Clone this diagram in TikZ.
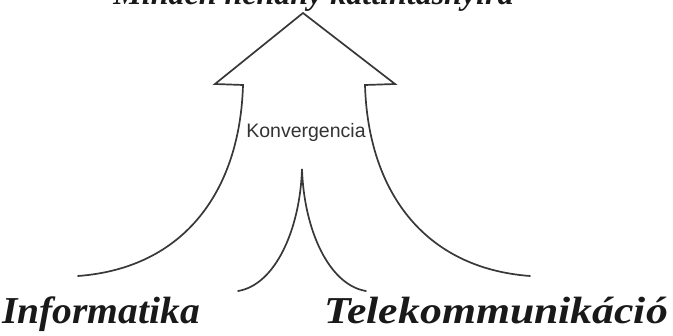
\documentclass[tikz,border=0pt]{standalone}
\usepackage{fontspec}
\setmainfont{Liberation Serif}
\newfontfamily\arialf{Liberation Sans}
\begin{document}
\begin{tikzpicture}[x=1pt,y=-1pt,
  curve/.style={draw=black!78, line width=1.7pt, line cap=round, line join=miter},
  biglabel/.style={inner sep=0pt, font=\fontsize{38}{40}\selectfont\bfseries\itshape, text=black!90},
  toplabel/.style={inner sep=0pt, font=\fontsize{32}{34}\selectfont\bfseries\itshape, text=black!90},
  convlabel/.style={inner sep=0pt, font=\arialf\fontsize{19.5}{21}\selectfont, text=black!80}]
\useasboundingbox (0,0) rectangle (673,336);
\fill[white] (0,0) rectangle (673,336);
% arrow head and shafts
\coordinate (tip) at (303,13);
\coordinate (lo) at (215,84);
\coordinate (li) at (243,85);
\coordinate (ri) at (365,85);
\coordinate (ro) at (395,84);
\coordinate (lend) at (78,276);
\coordinate (rend) at (530,276);
\draw[curve] (lend) .. controls (185,268) and (240,190) .. (li) -- (lo) -- (tip) -- (ro) -- (ri) .. controls (368,190) and (423,268) .. (rend);
% middle cusp
\coordinate (cusp) at (302,169);
\coordinate (ml) at (238,291);
\coordinate (mr) at (366,291);
\draw[curve] (ml) .. controls (275,285) and (300,230) .. (cusp) .. controls (304,230) and (329,285) .. (mr);
% labels
\node[toplabel, anchor=base] (top) at (313.5,5) {Minden néhány kattintásnyira};
\node[convlabel, anchor=base] (conv) at (306,138) {Konvergencia};
\node[biglabel, anchor=base west] (inf) at (2,324) {\scalebox{1.04}[1]{Informatika}};
\node[biglabel, anchor=base east] (tel) at (668,324) {\scalebox{1.15}[1]{Telekommunikáció}};
\end{tikzpicture}
\end{document}
